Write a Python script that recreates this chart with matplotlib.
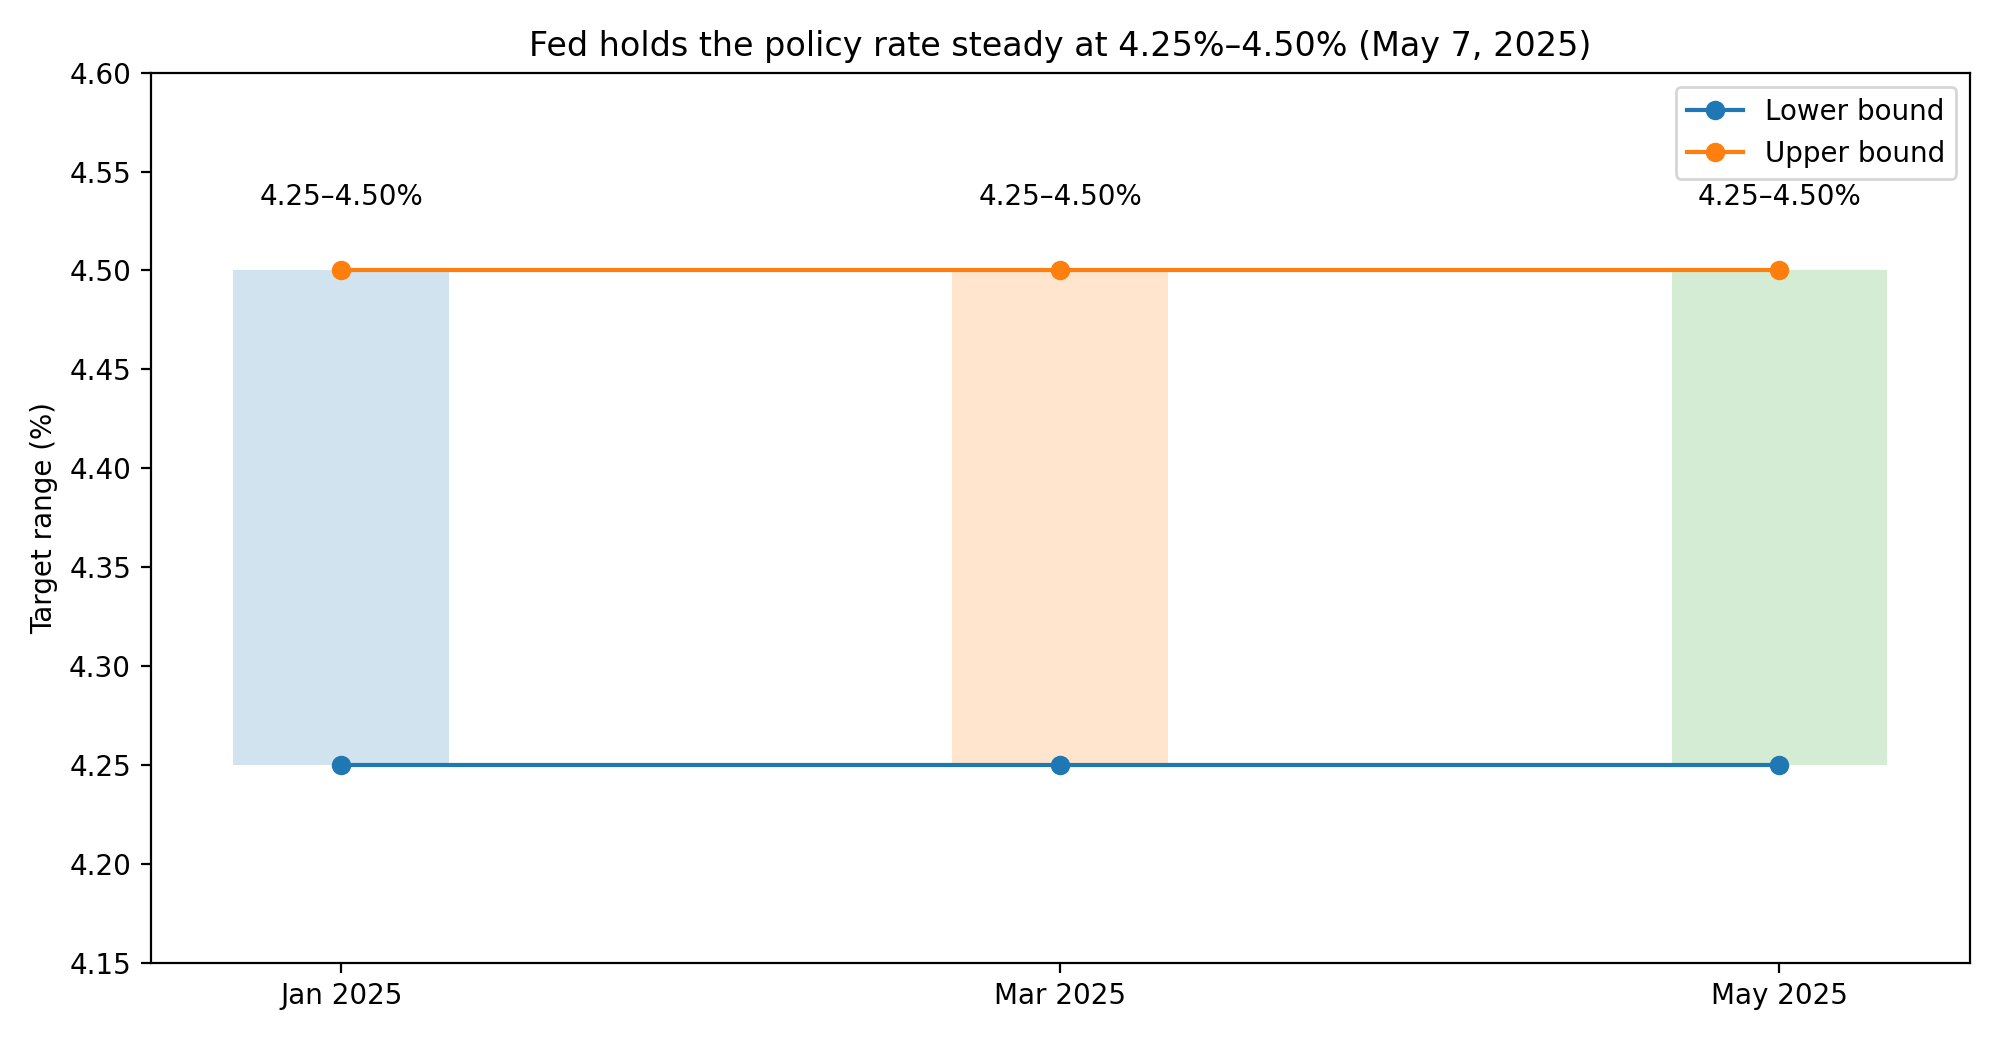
import matplotlib
matplotlib.use("Agg")
import matplotlib.pyplot as plt

meetings = ['Jan 2025', 'Mar 2025', 'May 2025']
lower = [4.25, 4.25, 4.25]
upper = [4.50, 4.50, 4.50]
band_colors = ['C0', 'C1', 'C2']

x = list(range(len(meetings)))

fig, ax = plt.subplots(figsize=(10, 5.2), dpi=200)

for i in x:
	ax.bar(x[i], upper[i] - lower[i], bottom=lower[i], width=0.3, color=band_colors[i], alpha=0.2)
	ax.text(x[i], upper[i] + 0.03, f"{lower[i]:.2f}–{upper[i]:.2f}%", ha='center', va='bottom')

ax.plot(x, lower, marker='o', label='Lower bound')
ax.plot(x, upper, marker='o', label='Upper bound')

ax.set_xticks(x)
ax.set_xticklabels(meetings)
ax.set_ylim(4.15, 4.60)
ax.set_ylabel('Target range (%)')
ax.set_title('Fed holds the policy rate steady at 4.25%–4.50% (May 7, 2025)')
ax.legend(loc='upper right')

plt.tight_layout()
plt.savefig('out.png')
